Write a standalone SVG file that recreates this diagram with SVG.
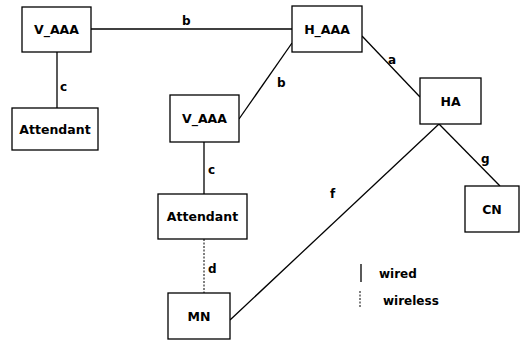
<svg xmlns="http://www.w3.org/2000/svg" width="522" height="344" viewBox="0 0 522 344">
<style>
.box{fill:#fff;stroke:#000;stroke-width:1.3}
.t{font-family:"DejaVu Sans",sans-serif;font-weight:bold;font-size:12.5px;fill:#000;text-anchor:middle}
.l{font-family:"DejaVu Sans",sans-serif;font-weight:bold;font-size:12px;fill:#000}
.w{stroke:#000;stroke-width:1.3;fill:none}
.d{stroke:#000;stroke-width:1;fill:none;stroke-dasharray:2,1.5}
</style>
<rect width="522" height="344" fill="#fff"/>
<g id="connectors">
<line class="w" x1="91" y1="29" x2="292" y2="29"/>
<line class="w" x1="57" y1="52" x2="57" y2="108"/>
<line class="w" x1="239" y1="119" x2="292" y2="43"/>
<line class="w" x1="362" y1="36" x2="420" y2="97"/>
<line class="w" x1="204" y1="142" x2="204" y2="194"/>
<line class="d" x1="204" y1="239" x2="204" y2="293"/>
<line class="w" x1="230" y1="320" x2="439" y2="124"/>
<line class="w" x1="439" y1="124" x2="500" y2="186"/>
<text class="l" x="182" y="25">b</text>
<text class="l" x="60" y="91">c</text>
<text class="l" x="277" y="87">b</text>
<text class="l" x="388" y="64">a</text>
<text class="l" x="208" y="174">c</text>
<text class="l" x="208" y="273">d</text>
<text class="l" x="330" y="198">f</text>
<text class="l" x="481" y="163">g</text>
</g>
<g id="v_aaa_top"><rect class="box" x="22" y="7" width="69" height="45"/><text class="t" x="56.5" y="34">V_AAA</text></g>
<g id="h_aaa"><rect class="box" x="292" y="6" width="70" height="46"/><text class="t" x="327" y="34">H_AAA</text></g>
<g id="attendant_left"><rect class="box" x="12" y="108" width="86" height="42"/><text class="t" x="55" y="134">Attendant</text></g>
<g id="v_aaa_mid"><rect class="box" x="170" y="95" width="69" height="47"/><text class="t" x="204.5" y="123">V_AAA</text></g>
<g id="ha"><rect class="box" x="420" y="78" width="61" height="46"/><text class="t" x="450.5" y="106">HA</text></g>
<g id="cn"><rect class="box" x="465" y="186" width="54" height="46"/><text class="t" x="492" y="214">CN</text></g>
<g id="attendant_mid"><rect class="box" x="158" y="194" width="89" height="45"/><text class="t" x="202.5" y="221">Attendant</text></g>
<g id="mn"><rect class="box" x="168" y="293" width="62" height="46"/><text class="t" x="199" y="321">MN</text></g>
<g id="legend">
<line class="w" x1="361" y1="264" x2="361" y2="282"/>
<text class="l" x="379" y="278">wired</text>
<line class="d" x1="360" y1="291" x2="360" y2="308"/>
<text class="l" x="383" y="305">wireless</text>
</g>
</svg>
